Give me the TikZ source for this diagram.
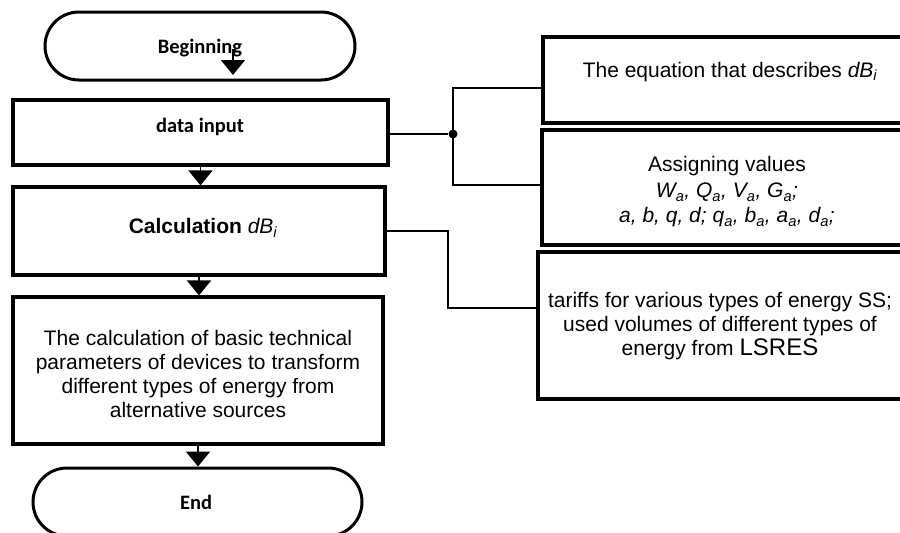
\documentclass[tikz,border=0pt]{standalone}
\usepackage{fontspec}
\setmainfont{Liberation Sans}
\newfontfamily\calib{Carlito}
\usetikzlibrary{arrows.meta}
\begin{document}
\begin{tikzpicture}[x=1pt,y=-1pt,
 box/.style={draw,line width=3.2pt,rectangle,inner sep=0pt},
 term/.style={draw,line width=3pt,rounded corners=34pt,inner sep=0pt,font=\calib\bfseries\fontsize{20.5}{24}\selectfont},
 flow/.style={line width=1.8pt,-{Triangle[width=24pt,length=15pt]}},
 link/.style={line width=1.7pt},
 txt/.style={align=center,font=\fontsize{21}{23.8}\selectfont,inner sep=0pt}]
\useasboundingbox (0,0) rectangle (900,533);

% left column
\node[term,minimum width=310pt,minimum height=68pt] (beg) at (200,46) {};
\node[txt,font=\calib\bfseries\fontsize{20.5}{24}\selectfont] (begtxt) at (200,48) {Beginning};
\node[box,minimum width=375pt,minimum height=65pt] (din) at (200.5,132.5) {};
\node[txt,font=\calib\bfseries\fontsize{20.5}{24}\selectfont] (dintxt) at (200,127) {data input};
\node[box,minimum width=372pt,minimum height=88pt] (calc) at (199,231) {};
\node[txt] (calctxt) at (203,228) {\textbf{Calculation} \textit{dB\textsubscript{i}}};
\node[box,minimum width=370pt,minimum height=147pt] (par) at (198,370.5) {};
\node[txt] (partxt) at (198,374) {The calculation of basic technical\\parameters of devices to transform\\different types of energy from\\alternative sources};
\node[term,minimum width=329pt,minimum height=68pt] (end) at (197.5,502) {};
\node[txt,font=\calib\bfseries\fontsize{20.5}{24}\selectfont] (endtxt) at (196,502) {End};

% flow arrows
\coordinate (bs) at (233,49);
\coordinate (be) at (233,75);
\draw[flow] (bs) -- (be);
\draw[flow] (din.south) -- (din.south |- calc.north);
\draw[flow] (calc.south) -- (calc.south |- par.north);
\draw[flow] (par.south) -- (par.south |- end.north);

% right column
\node[box,minimum width=362pt,minimum height=86pt] (b1) at (724,80) {};
\node[txt] (t1) at (730,72) {The equation that describes \textit{dB\textsubscript{i}}};
\node[box,minimum width=363pt,minimum height=115pt] (b2) at (723.5,187.5) {};
\node[txt,font=\fontsize{21}{25}\selectfont] (t2) at (727,192) {Assigning values\\[1pt]
 \textit{W\textsubscript{a}, Q\textsubscript{a}, V\textsubscript{a}, G\textsubscript{a};}\\
 \textit{a, b, q, d; q\textsubscript{a}, b\textsubscript{a}, a\textsubscript{a}, d\textsubscript{a};}};
\node[box,minimum width=367pt,minimum height=147pt] (b3) at (721.5,325.5) {};
\node[txt,font=\fontsize{21}{24}\selectfont] (t3) at (720,326) {tariffs for various types of energy SS;\\used volumes of different types of\\energy from {\fontsize{24}{24}\selectfont LSRES}};

% links
\node[circle,fill,inner sep=0pt,minimum size=9pt] (dot) at (453,134) {};
\draw[link] (din.east |- dot) -- (dot);
\coordinate (jt) at (453,88);
\coordinate (jb) at (453,185);
\draw[link] (b1.west |- jt) -- (jt) -- (jb) -- (b2.west |- jb);
\coordinate (ck) at (448,308);
\draw[link] (calc.east) -| (ck) -- (b3.west |- ck);
\end{tikzpicture}
\end{document}
